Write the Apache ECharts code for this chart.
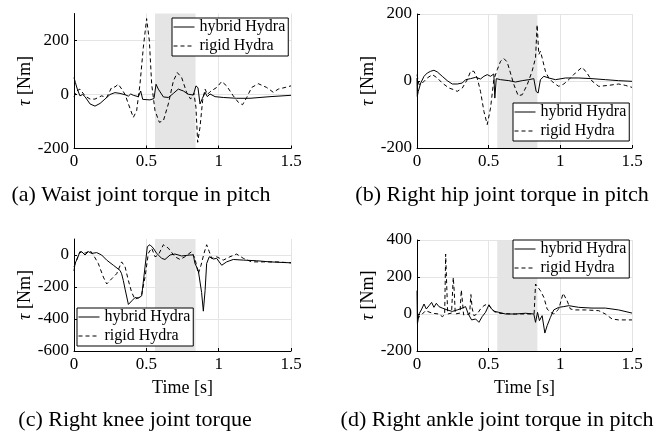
<!DOCTYPE html>
<html>
<head>
<meta charset="utf-8">
<script src="https://cdn.jsdelivr.net/npm/echarts@6/dist/echarts.min.js"></script>
<style>
  html, body { margin: 0; padding: 0; background: #fff; }
  #chart { width: 662px; height: 435px; }
</style>
</head>
<body>
<div id="chart"></div>
<script>
// (a) waist joint torque in pitch
var tHybA = [0, 0.009, 0.023, 0.041, 0.06, 0.076, 0.111, 0.145, 0.18, 0.214, 0.249, 0.283, 0.318, 0.353, 0.376, 0.392, 0.41, 0.445, 0.461, 0.475, 0.525, 0.553, 0.567, 0.583, 0.618, 0.652, 0.687, 0.721, 0.756, 0.79, 0.825, 0.843, 0.857, 0.871, 0.887, 0.906, 0.922, 0.94, 0.975, 1.032, 1.124, 1.217, 1.355, 1.5];
var hybA = [63, 45, 20, -5, 0, -8, -35, -43, -33, -17, 0, 7, 4, -1, -6, 2, -3, -8, 13, -18, -20, -15, 38, 20, -9, -11, 4, 20, 13, 1, -2, 32, 25, -35, -15, 8, -8, 2, -8, -11, -14, -14, -8, -3];
var tRigA = [0, 0.018, 0.041, 0.076, 0.111, 0.145, 0.191, 0.226, 0.26, 0.283, 0.306, 0.33, 0.353, 0.376, 0.41, 0.433, 0.456, 0.479, 0.502, 0.521, 0.537, 0.56, 0.59, 0.618, 0.652, 0.687, 0.714, 0.744, 0.779, 0.806, 0.829, 0.843, 0.855, 0.871, 0.889, 0.906, 0.922, 0.94, 0.986, 1.021, 1.055, 1.101, 1.136, 1.165, 1.194, 1.228, 1.274, 1.332, 1.378, 1.412, 1.459, 1.5];
var rigA = [-9, 13, 20, -5, -17, -17, -5, -11, 26, 28, 38, 20, 0, -35, -85, -60, 38, 173, 281, 198, 38, -60, -103, -97, -35, 50, 81, 63, 7, -17, 5, -48, -177, -121, -23, 20, 0, 10, 26, 48, 32, -5, -29, -38, -11, 26, 40, 26, 8, 20, 26, 32];

// (b) right hip joint torque in pitch
var tHybB = [0, 0.002, 0.009, 0.026, 0.049, 0.072, 0.095, 0.118, 0.142, 0.176, 0.211, 0.246, 0.281, 0.316, 0.339, 0.374, 0.409, 0.443, 0.467, 0.49, 0.513, 0.536, 0.543, 0.553, 0.583, 0.641, 0.687, 0.734, 0.78, 0.815, 0.831, 0.845, 0.861, 0.885, 0.919, 0.966, 1.036, 1.128, 1.221, 1.314, 1.407, 1.5];
var hybB = [9, -46, -31, -6, 14, 24, 29, 32, 27, 14, 1, -9, -9, -6, 4, 7, 11, 6, 14, 19, 14, 21, -51, 7, 4, 1, -3, 1, 4, 7, -31, -36, 4, 14, 9, 4, 9, 9, 7, 4, 1, -1];
var tRigB = [0, 0.014, 0.037, 0.072, 0.107, 0.142, 0.176, 0.223, 0.258, 0.281, 0.316, 0.351, 0.374, 0.397, 0.42, 0.443, 0.467, 0.49, 0.513, 0.536, 0.56, 0.583, 0.606, 0.629, 0.652, 0.676, 0.706, 0.734, 0.769, 0.803, 0.827, 0.838, 0.85, 0.861, 0.873, 0.896, 0.919, 0.954, 0.989, 1.024, 1.059, 1.105, 1.152, 1.186, 1.221, 1.268, 1.337, 1.407, 1.453, 1.5];
var rigB = [19, -11, -6, 9, 19, 9, -6, -21, -26, -31, -21, 4, 29, 29, 9, -31, -91, -130, -81, 4, 34, 59, 67, 57, 24, -11, -44, -41, -11, 29, 69, 168, 79, 89, 69, 29, 9, -6, -16, -9, 4, 24, 41, 24, 0, -16, -13, -9, -13, -19];

// (c) right knee joint torque
var tHybC = [0, 0.007, 0.018, 0.037, 0.053, 0.076, 0.099, 0.122, 0.157, 0.191, 0.226, 0.272, 0.318, 0.329, 0.341, 0.353, 0.376, 0.399, 0.422, 0.445, 0.468, 0.491, 0.507, 0.525, 0.548, 0.571, 0.606, 0.629, 0.664, 0.698, 0.744, 0.802, 0.825, 0.836, 0.859, 0.882, 0.894, 0.906, 0.917, 0.935, 0.963, 0.986, 1.021, 1.055, 1.101, 1.171, 1.263, 1.355, 1.5];
var hybC = [-100, -53, -32, 11, 21, 0, 21, 10, 15, 0, -32, -64, -96, -117, -160, -213, -309, -287, -266, -270, -255, -74, 53, 64, 43, 11, -21, -28, 0, 6, -6, 0, 0, -53, -96, -234, -351, -223, -53, -11, -25, -21, -64, -43, -28, -32, -36, -43, -49];
var tRigC = [0, 0.018, 0.041, 0.076, 0.111, 0.134, 0.168, 0.203, 0.226, 0.26, 0.295, 0.329, 0.353, 0.376, 0.399, 0.422, 0.445, 0.468, 0.491, 0.514, 0.537, 0.56, 0.583, 0.618, 0.652, 0.698, 0.733, 0.767, 0.813, 0.836, 0.859, 0.878, 0.899, 0.917, 0.935, 0.952, 0.986, 1.032, 1.078, 1.124, 1.171, 1.228, 1.309, 1.401, 1.5];
var rigC = [-74, -32, 21, 11, 28, 0, -53, -138, -181, -149, -117, -43, -74, -160, -234, -277, -266, -245, -138, 11, 43, -11, 0, 64, 43, -11, -28, -11, 21, -21, -117, -64, 11, 64, 21, -21, -11, -32, -11, 6, -21, -43, -43, -43, -49];

// (d) right ankle joint torque in pitch
var tHybD = [0, 0.003, 0.014, 0.033, 0.049, 0.065, 0.084, 0.102, 0.118, 0.135, 0.153, 0.176, 0.211, 0.246, 0.281, 0.316, 0.339, 0.358, 0.381, 0.409, 0.432, 0.455, 0.478, 0.502, 0.52, 0.543, 0.571, 0.618, 0.687, 0.757, 0.815, 0.827, 0.841, 0.854, 0.873, 0.892, 0.908, 0.931, 0.954, 0.989, 1.024, 1.059, 1.128, 1.221, 1.314, 1.407, 1.5];
var hybD = [126, -54, 0, 27, 54, 27, 45, 63, 36, 58, 40, 32, 22, 14, 22, 32, 40, 0, -32, -27, -45, -14, 9, 50, 27, 14, 9, 0, 0, 4, 0, -45, 9, -36, -9, -103, -63, -18, 22, 36, 40, 45, 36, 32, 32, 22, 5];
var tRigD = [0, 0.026, 0.06, 0.107, 0.153, 0.176, 0.193, 0.2, 0.207, 0.214, 0.241, 0.253, 0.26, 0.267, 0.3, 0.309, 0.318, 0.325, 0.367, 0.376, 0.385, 0.397, 0.42, 0.443, 0.467, 0.49, 0.513, 0.536, 0.571, 0.664, 0.757, 0.817, 0.827, 0.838, 0.861, 0.885, 0.908, 0.931, 0.954, 0.989, 1.019, 1.047, 1.07, 1.105, 1.175, 1.268, 1.314, 1.361, 1.407, 1.5];
var rigD = [-27, -9, 18, 4, 0, -14, -5, 324, 162, 0, 5, 198, 120, 0, 5, 130, 60, -5, 0, 105, 30, -9, 0, 27, 45, 54, 36, 14, 4, 0, 0, 0, 162, 153, 126, 90, 27, 9, 0, 27, 112, 72, 27, 22, 22, 18, 0, -27, -32, -32];

var xTicks = [0, 0.5, 1, 1.5];
var yTicksA = [-200, 0, 200];
var yTicksB = [-200, 0, 200];
var yTicksC = [-600, -400, -200, 0];
var yTicksD = [-200, 0, 200, 400];
var captions = [
  '(a) Waist joint torque in pitch',
  '(b) Right hip joint torque in pitch',
  '(c) Right knee joint torque',
  '(d) Right ankle joint torque in pitch'
];
var names = ['hybrid Hydra', 'rigid Hydra'];
var contactStart = 0.56, contactEnd = 0.84;

var FONT = '"Liberation Serif", "Times New Roman", serif';

function pairs(t, v) {
  return t.map(function (x, i) { return [x, v[i]]; });
}

// layout of the four panels
var panels = [
  { left: 74, top: 13.5, width: 217, height: 135, min: -200, max: 300, ticks: yTicksA, time: false,
    legend: { left: 172, top: 18 }, cap: [141, 195], hyb: pairs(tHybA, hybA), rig: pairs(tRigA, rigA) },
  { left: 417, top: 14, width: 215, height: 134, min: -200, max: 200, ticks: yTicksB, time: false,
    legend: { left: 513, top: 103 }, cap: [502, 195], hyb: pairs(tHybB, hybB), rig: pairs(tRigB, rigB) },
  { left: 74, top: 239, width: 217, height: 112, min: -600, max: 100, ticks: yTicksC, time: true,
    legend: { left: 77, top: 308 }, cap: [135, 420], hyb: pairs(tHybC, hybC), rig: pairs(tRigC, rigC) },
  { left: 417, top: 240, width: 215, height: 111, min: -200, max: 400, ticks: yTicksD, time: true,
    legend: { left: 513, top: 240 }, cap: [497, 420], hyb: pairs(tHybD, hybD), rig: pairs(tRigD, rigD) }
];

var grid = [], xAxis = [], yAxis = [], series = [], legend = [], graphic = [];
var gridColor = '#e4e4e4';

panels.forEach(function (p, i) {
  grid.push({ left: p.left, top: p.top, width: p.width, height: p.height });
  xAxis.push({
    gridIndex: i, type: 'value', min: 0, max: 1.5, z: 3,
    name: p.time ? 'Time [s]' : '', nameLocation: 'middle', nameGap: 28,
    nameTextStyle: { fontFamily: FONT, fontSize: 18, color: '#000' },
    axisLine: { onZero: false, lineStyle: { color: '#000', width: 1 } },
    axisTick: { inside: true, length: 3, customValues: xTicks, lineStyle: { color: '#000' } },
    axisLabel: { customValues: xTicks, margin: 5, fontFamily: FONT, fontSize: 17, color: '#000' },
    splitLine: { show: true, lineStyle: { color: gridColor, width: 1 } }
  });
  yAxis.push({
    gridIndex: i, type: 'value', min: p.min, max: p.max, z: 3,
    name: '{t|τ} [Nm]', nameLocation: 'middle', nameRotate: 90, nameGap: 34,
    nameTextStyle: {
      fontFamily: FONT, fontSize: 18, color: '#000',
      rich: { t: { fontFamily: FONT, fontSize: 18, fontStyle: 'italic', color: '#000' } }
    },
    axisLine: { onZero: false, lineStyle: { color: '#000', width: 1 } },
    axisTick: { inside: true, length: 3, customValues: p.ticks, lineStyle: { color: '#000' } },
    axisLabel: { customValues: p.ticks, margin: 5, fontFamily: FONT, fontSize: 17, color: '#000' },
    splitLine: { show: true, lineStyle: { color: gridColor, width: 1 } }
  });
  series.push({
    name: names[0], type: 'line', xAxisIndex: i, yAxisIndex: i, symbol: 'none', z: 4,
    lineStyle: { color: '#000', width: 1 }, itemStyle: { color: '#000' },
    data: p.hyb,
    markArea: {
      silent: true, z: 1,
      itemStyle: { color: '#e5e5e5' },
      data: [[{ xAxis: contactStart }, { xAxis: contactEnd }]]
    }
  });
  series.push({
    name: names[1], type: 'line', xAxisIndex: i, yAxisIndex: i, symbol: 'none', z: 4,
    lineStyle: { color: '#000', width: 1, type: [4, 3] }, itemStyle: { color: '#000' },
    data: p.rig
  });
  legend.push({
    data: names, orient: 'vertical', left: p.legend.left, top: p.legend.top,
    backgroundColor: '#fff', borderColor: '#000', borderWidth: 1, borderRadius: 0,
    padding: [1, 3, 2, 1], itemGap: 3, itemWidth: 21, itemHeight: 15,
    selectedMode: false, z: 6,
    itemStyle: { opacity: 0 },
    lineStyle: { width: 1 },
    textStyle: { fontFamily: FONT, fontSize: 16, color: '#000' }
  });
  graphic.push({
    type: 'text', x: p.cap[0], y: p.cap[1],
    style: {
      text: captions[i], fill: '#000', font: '22px ' + FONT,
      align: 'center', verticalAlign: 'middle',
      textAlign: 'center', textVerticalAlign: 'middle'
    }
  });
});

var chart = echarts.init(document.getElementById('chart'));
chart.setOption({
  animation: false,
  backgroundColor: '#fff',
  grid: grid,
  xAxis: xAxis,
  yAxis: yAxis,
  legend: legend,
  graphic: graphic,
  series: series
});
</script>
</body>
</html>
